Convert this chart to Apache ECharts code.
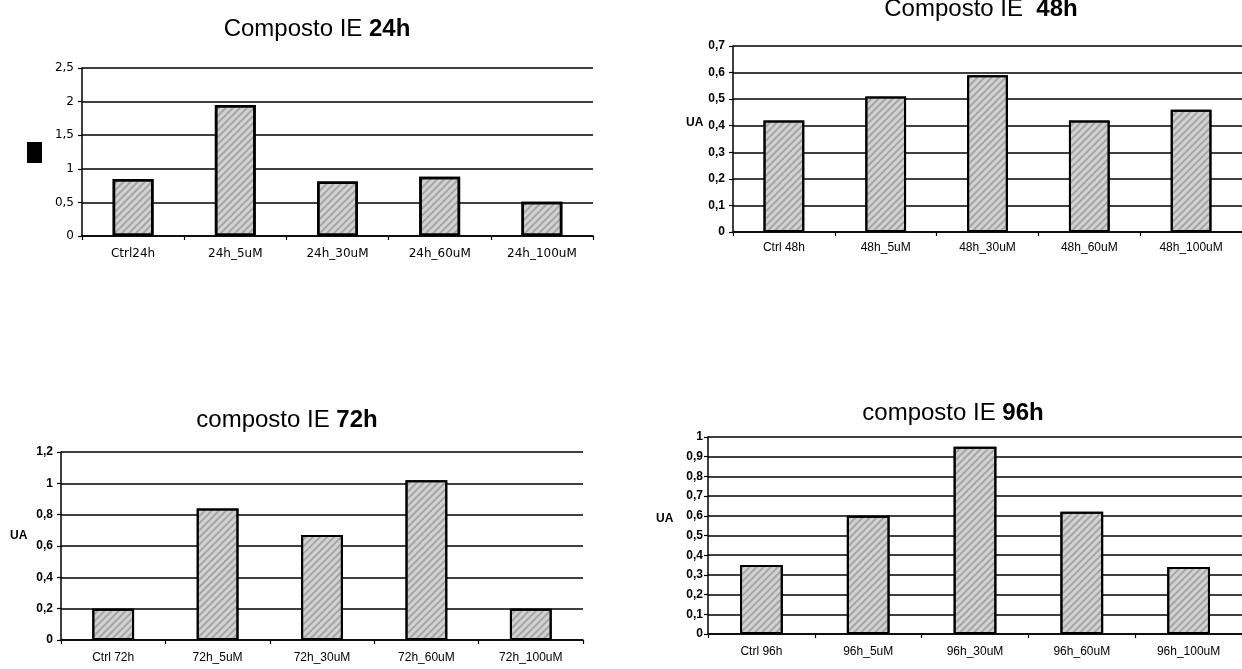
<!DOCTYPE html>
<html>
<head>
<meta charset="utf-8">
<script src="https://cdn.jsdelivr.net/npm/echarts@6/dist/echarts.min.js"></script>
<style>
html,body{margin:0;padding:0;background:#fff;}
#c{width:1242px;height:669px;}
</style>
</head>
<body>
<div id="c"></div>
<script>
// ---- data ----
const cats24 = ['Ctrl24h', '24h_5uM', '24h_30uM', '24h_60uM', '24h_100uM'];
const vals24 = [0.85, 1.95, 0.81, 0.88, 0.51];
const cats48 = ['Ctrl 48h', '48h_5uM', '48h_30uM', '48h_60uM', '48h_100uM'];
const vals48 = [0.42, 0.51, 0.59, 0.42, 0.46];
const cats72 = ['Ctrl 72h', '72h_5uM', '72h_30uM', '72h_60uM', '72h_100uM'];
const vals72 = [0.20, 0.84, 0.67, 1.02, 0.20];
const cats96 = ['Ctrl 96h', '96h_5uM', '96h_30uM', '96h_60uM', '96h_100uM'];
const vals96 = [0.35, 0.60, 0.95, 0.62, 0.34];

const titles = [
  ['Composto IE ', '24h'],
  ['Composto IE  ', '48h'],
  ['composto IE ', '72h'],
  ['composto IE ', '96h']
];
const yRanges = [[0, 2.5, 0.5], [0, 0.7, 0.1], [0, 1.2, 0.2], [0, 1, 0.1]];
const yName = 'UA';

// ---- layout ----
const grids = [
  {left: 82, top: 68, width: 511, height: 168},
  {left: 733, top: 46, width: 509, height: 186},
  {left: 61, top: 452, width: 522, height: 188},
  {left: 708, top: 437, width: 534, height: 197}
];
const titlePos = [[312, 12], [976, -8], [282, 403], [948, 396]];
const fonts = ['DejaVu Sans', 'Liberation Sans', 'Liberation Sans', 'Liberation Sans'];
const labelMargins = [12, 10, 12, 12];
const ylabelMargins = [8, 8, 8, 5];
const cats = [cats24, cats48, cats72, cats96];
const vals = [vals24, vals48, vals72, vals96];

const fmt = v => String(Math.round(v * 10) / 10).replace('.', ',');

const option = {
  animation: false,
  backgroundColor: '#fff',
  title: titles.map((t, i) => ({
    text: '{a|' + t[0] + '}{b|' + t[1] + '}',
    left: titlePos[i][0],
    top: titlePos[i][1],
    textAlign: 'center',
    textStyle: {
      fontFamily: 'Liberation Sans', fontSize: 24, fontWeight: 'normal', color: '#000',
      rich: {
        a: {fontFamily: 'Liberation Sans', fontSize: 24, fontWeight: 'normal', color: '#000'},
        b: {fontFamily: 'Liberation Sans', fontSize: 24, fontWeight: 'bold', color: '#000'}
      }
    }
  })),
  grid: grids.map(g => Object.assign({containLabel: false}, g)),
  xAxis: cats.map((c, i) => ({
    type: 'category',
    gridIndex: i,
    data: c,
    boundaryGap: true,
    axisLine: {show: true, lineStyle: {color: '#000', width: 1.5}},
    axisTick: {show: true, length: 4, lineStyle: {color: '#000', width: 1.2}},
    axisLabel: {
      fontFamily: fonts[i], fontSize: 12, color: '#000', margin: labelMargins[i], interval: 0
    },
    splitLine: {show: false}
  })),
  yAxis: yRanges.map((r, i) => ({
    type: 'value',
    gridIndex: i,
    min: r[0], max: r[1], interval: r[2],
    axisLine: {show: true, lineStyle: {color: '#000', width: 1.5}},
    axisTick: {show: true, length: 4, lineStyle: {color: '#000', width: 1.2}},
    axisLabel: {
      formatter: fmt, fontFamily: fonts[i], fontSize: 12, color: '#000',
      margin: ylabelMargins[i], fontWeight: i === 0 ? 'normal' : 'bold'
    },
    splitLine: {show: true, lineStyle: {color: '#000', width: 1.6}}
  })),
  series: vals.map((v, i) => ({
    type: 'bar',
    xAxisIndex: i,
    yAxisIndex: i,
    data: v,
    barWidth: '40%',
    itemStyle: {
      color: '#d2d2d2',
      borderColor: '#000',
      borderWidth: i === 0 ? 2.5 : 2,
      decal: {
        symbol: 'rect',
        symbolSize: 1,
        dashArrayX: [1, 0],
        dashArrayY: [2, 3],
        rotation: -Math.PI / 4,
        color: 'rgba(80,80,80,0.35)'
      }
    }
  })),
  graphic: [
    {type: 'rect', left: 27, top: 142, shape: {width: 15, height: 21}, style: {fill: '#000'}},
    {type: 'text', left: 686, top: 117, style: {text: yName, font: 'bold 12px "Liberation Sans"', fill: '#000'}},
    {type: 'text', left: 10, top: 530, style: {text: yName, font: 'bold 12px "Liberation Sans"', fill: '#000'}},
    {type: 'text', left: 656, top: 513, style: {text: yName, font: 'bold 12px "Liberation Sans"', fill: '#000'}}
  ]
};

const chart = echarts.init(document.getElementById('c'), null, {renderer: 'canvas'});
chart.setOption(option);
</script>
</body>
</html>
